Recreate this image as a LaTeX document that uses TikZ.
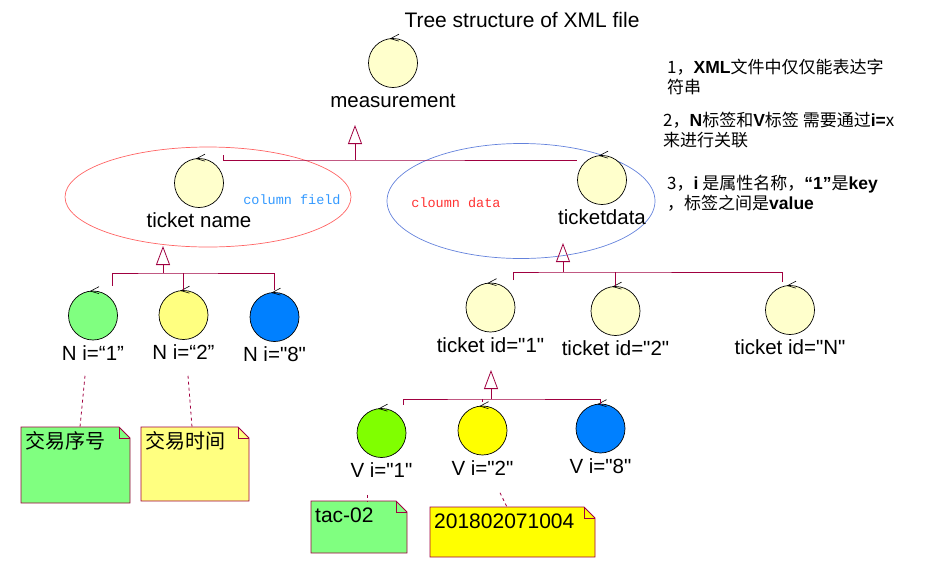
\documentclass[tikz,border=0pt]{standalone}
\usepackage{fontspec}
\setmainfont{Liberation Sans}[Ligatures=TeXOff]
\setmonofont{Liberation Mono}
\newfontfamily\cjk{Noto Sans CJK SC}
\usepackage{xcolor}
\usepackage{tikz}
\usetikzlibrary{shapes,arrows.meta,positioning,backgrounds,calc}

\definecolor{treeline}{RGB}{160,0,64}
\definecolor{ballcream}{RGB}{255,255,204}
\definecolor{ballgreen}{RGB}{128,255,128}
\definecolor{ballyellow}{RGB}{255,255,128}
\definecolor{ballblue}{RGB}{0,128,255}
\definecolor{ballchart}{RGB}{128,255,0}
\definecolor{ballgold}{RGB}{255,255,0}
\definecolor{ringred}{RGB}{255,100,100}
\definecolor{ringblue}{RGB}{100,130,220}
\definecolor{tagblue}{RGB}{51,153,255}
\definecolor{tagred}{RGB}{255,51,51}

\newcommand{\lat}[1]{{\rmfamily\bfseries\fontsize{17.5}{19.5}\selectfont #1}}

\begin{document}
\begin{tikzpicture}[x=1pt, y=-1pt,
    ball/.style={circle, draw, line width=0.7pt, minimum size=49pt, inner sep=0pt, fill=ballcream},
    tag/.style={font=\fontsize{20.5}{24}\selectfont, inner sep=0pt, text height=14.5pt, text depth=4pt},
    ring/.style={ellipse, draw, line width=0.7pt, inner sep=0pt},
    genline/.style={draw=treeline, line width=0.8pt},
    gentip/.style={-{Triangle[open, length=19pt, width=14pt]}},
    notelink/.style={draw=treeline, line width=0.8pt, dashed},
    note/.style={anchor=north west, inner xsep=4pt, inner ysep=6.5pt, font=\fontsize{21}{24}\selectfont},
    remark/.style={anchor=north west, align=left, inner sep=0pt, font=\cjk\fontsize{17}{19.5}\selectfont}
]
    \useasboundingbox (0,0) rectangle (929,566);

    % Title
    \node[font=\fontsize{21}{24}\selectfont] (title) at (522,20) {Tree structure of XML file};

    % Groups
    \node[ring, draw=ringred, minimum width=286pt, minimum height=100pt] (fieldring) at (208,197) {};
    \node[ring, draw=ringblue, minimum width=268pt, minimum height=115pt] (dataring) at (521,201) {};
    \node[font=\ttfamily\fontsize{13.5}{16}\selectfont, text=tagblue] (fieldtag) at (292,200) {column field};
    \node[font=\ttfamily\fontsize{13.5}{16}\selectfont, text=tagred] (datatag) at (456,203) {cloumn data};

    % Root
    \node[ball] (meas) at (393,63) {};
    \node[tag, below=5pt of meas] (measlbl) {measurement};

    % Level 1
    \node[ball] (tname) at (199,183) {};
    \node[tag, below=5pt of tname] (tnamelbl) {ticket name};
    \node[ball] (tdata) at (602,180) {};
    \node[tag, below=5pt of tdata] (tdatalbl) {ticketdata};

    % Level 2
    \node[ball, fill=ballgreen] (n1) at (93,315.5) {};
    \node[tag, below=5pt of n1] (n1lbl) {N i=“1”};
    \node[ball, fill=ballyellow] (n2) at (183.5,315) {};
    \node[tag, below=5pt of n2] (n2lbl) {N i=“2”};
    \node[ball, fill=ballblue] (n3) at (274.5,317) {};
    \node[tag, below=5pt of n3] (n3lbl) {N i="8"};
    \node[ball] (tid1) at (490.5,307.5) {};
    \node[tag, below=5pt of tid1] (tid1lbl) {ticket id="1"};
    \node[ball] (tid2) at (615.5,311) {};
    \node[tag, below=5pt of tid2] (tid2lbl) {ticket id="2"};
    \node[ball] (tidN) at (790,310) {};
    \node[tag, below=5pt of tidN] (tidNlbl) {ticket id="N"};

    % Level 3
    \node[ball, fill=ballchart] (v1) at (381.5,433) {};
    \node[tag, below=5pt of v1] (v1lbl) {V i="1"};
    \node[ball, fill=ballgold] (v2) at (482.5,430.5) {};
    \node[tag, below=5pt of v2] (v2lbl) {V i="2"};
    \node[ball, fill=ballblue] (v8) at (600.5,428.5) {};
    \node[tag, below=5pt of v8] (v8lbl) {V i="8"};

    % Marks on the balls
    \foreach \b in {meas,tname,tdata,n1,n2,n3,tid1,tid2,tidN,v1,v2,v8}
        \draw[line width=0.6pt] ($(\b.north)+(6,-4)$) -- ($(\b.north)+(-2.5,0.5)$) -- ($(\b.north)+(6,3)$);

    % Generalisations
    \coordinate (mbar) at (355,160);
    \draw[genline] ($(tname.east |- mbar)+(0,-5)$) |- (mbar) -- (tdata.west |- mbar);
    \draw[genline, gentip] (mbar) -- ++(0,-35);

    \coordinate (nbar) at (163,273);
    \draw[genline] ($(n1.north)+(19,-5)$) |- (nbar) -| ($(n3.north)+(0,-2)$);
    \draw[genline] (n2.north) -- (n2.north |- nbar);
    \draw[genline, gentip] (nbar) -- ++(0,-27);

    \coordinate (dbar) at (563,272);
    \draw[genline] ($(tid1.east |- dbar)+(-2,8)$) |- (dbar) -| ($(tidN.north)+(-8,-3)$);
    \draw[genline] (tid2.north) -- (tid2.north |- dbar);
    \draw[genline, gentip] (dbar) -- ++(0,-29);

    \coordinate (vbar) at (491,399);
    \draw[genline] ($(v1.north)+(21.5,-3.5)$) |- (vbar) -| (v8.north);
    \draw[genline] ($(v2.north)+(0,-4)$) -- (v2.north |- vbar);
    \draw[genline, gentip] (vbar) -- ++(0,-29);

    % Notes
    \node[note, font=\cjk\fontsize{20}{24}\selectfont, inner ysep=4pt] (seqnote) at (21,427) {交易序号};
    \node[note, font=\cjk\fontsize{20}{24}\selectfont, inner ysep=4pt] (timenote) at (141,427) {交易时间};
    \node[note] (tacnote) at (311,501) {tac-02};
    \node[note] (datenote) at (430,507) {201802071004};
    \begin{scope}[on background layer]
        \foreach \n/\w/\h/\c in {seqnote/109/76/ballgreen, timenote/108/74/ballyellow, tacnote/96/52/ballgreen, datenote/165/50/ballgold}{
            \filldraw[fill=\c, draw=treeline, line width=0.8pt] (\n.north west) -- ++(\w-11,0) -- ++(11,11) -- ++(0,\h-11) -- ++(-\w,0) -- cycle;
            \draw[treeline, line width=0.8pt] ($(\n.north west)+(\w-11,0)$) |- ++(11,11);
        }
    \end{scope}
    \draw[notelink] ([xshift=-8pt,yshift=-11.5pt]n1lbl.south) -- ([xshift=59pt]seqnote.north west);
    \draw[notelink] ([xshift=4.5pt,yshift=-12pt]n2lbl.south) -- ([xshift=51pt]timenote.north west);
    \draw[notelink] ([xshift=-14.5pt,yshift=-13pt]v1lbl.south) -- ([xshift=56pt]tacnote.north west);
    \draw[notelink] ([xshift=17.5pt,yshift=-13.5pt]v2lbl.south) -- ([xshift=77pt]datenote.north west);

    % Remarks
    \node[remark] (remark1) at (667,59) {1，\lat{XML}文件中仅仅能表达字\\符串};
    \node[remark] (remark2) at (663,112) {2，\lat{N}标签和\lat{V}标签 需要通过\lat{i=}x\\来进行关联};
    \node[remark] (remark3) at (667,175) {3，\lat{i} 是属性名称，\lat{“1”}是\lat{key}\\，标签之间是\lat{value}};
\end{tikzpicture}
\end{document}
